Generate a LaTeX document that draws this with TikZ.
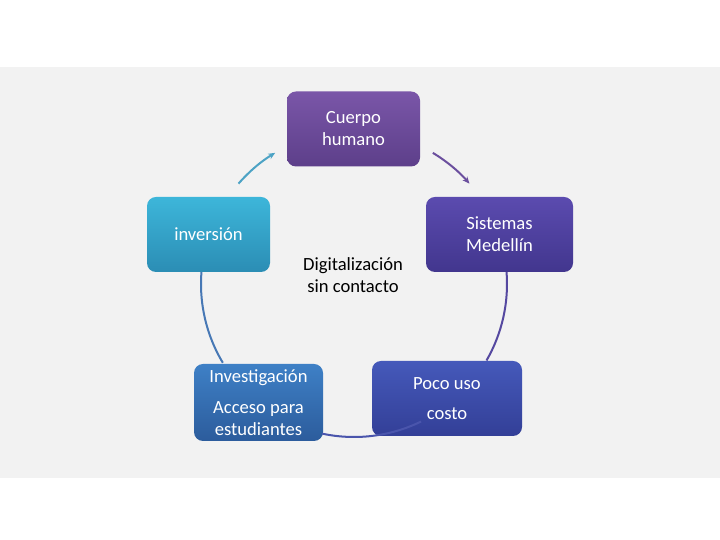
\documentclass[tikz,border=0pt]{standalone}
\usepackage{fontspec}
\setmainfont{Carlito}
\usetikzlibrary{arrows.meta}
\definecolor{bggray}{HTML}{F2F2F2}
\tikzset{
  box/.style={rectangle, rounded corners=9pt, inner sep=0pt, text=white, align=center,
    font=\fontsize{18.6}{22}\selectfont},
  link/.style={line width=2pt},
  tip/.style={-{Stealth[length=7pt,width=6pt]}}
}
\begin{document}
\begin{tikzpicture}[x=1pt,y=1pt]
\useasboundingbox (0,0) rectangle (720,540);
\fill[white] (0,0) rectangle (720,540);
\fill[bggray] (0,62) rectangle (720,473);
\coordinate (ctr) at (354,256);
% arcs behind nodes
\draw[link, tip, color={rgb,255:red,77;green,163;blue,197}] ([shift={(139:153)}]ctr) arc (139:121:153);
\draw[link, tip, color={rgb,255:red,107;green,79;blue,158}] ([shift={(59:153)}]ctr) arc (59:41:153);
\draw[link, color={rgb,255:red,85;green,72;blue,160}] ([shift={(5:153)}]ctr) arc (5:-30:153);
\draw[link, color={rgb,255:red,71;green,120;blue,181}] ([shift={(211:153)}]ctr) arc (211:175:153);
% nodes
\node[box, minimum width=133pt, minimum height=75pt,
  top color={rgb,255:red,122;green,86;blue,168}, bottom color={rgb,255:red,93;green,63;blue,138}]
  (cuerpo) at (353.5,411) {Cuerpo\\humano};
\node[box, minimum width=123pt, minimum height=75pt,
  top color={rgb,255:red,61;green,182;blue,218}, bottom color={rgb,255:red,43;green,141;blue,180}]
  (inversion) at (208.5,305.5) {inversión};
\node[box, minimum width=147pt, minimum height=75pt,
  top color={rgb,255:red,91;green,75;blue,175}, bottom color={rgb,255:red,66;green,54;blue,142}]
  (sistemas) at (499.5,305.5) {Sistemas\\Medellín};
\node[box, minimum width=129pt, minimum height=77pt,
  top color={rgb,255:red,62;green,128;blue,198}, bottom color={rgb,255:red,44;green,92;blue,156}]
  (investigacion) at (258.5,137.5) {Investigación\\[9pt]Acceso para\\estudiantes};
\node[box, minimum width=150pt, minimum height=75pt,
  top color={rgb,255:red,69;green,89;blue,186}, bottom color={rgb,255:red,51;green,63;blue,151}]
  (poco) at (447,141.5) {Poco uso\\[8pt]costo};
\node[align=center, font=\fontsize{18.6}{22}\selectfont, text=black]
  (digital) at (353,265) {Digitalización\\sin contacto};
% arc over the lower right box
\draw[link, color={rgb,255:red,74;green,85;blue,172}] ([shift={(-64:153)}]ctr) arc (-64:-102:153);
\end{tikzpicture}
\end{document}
